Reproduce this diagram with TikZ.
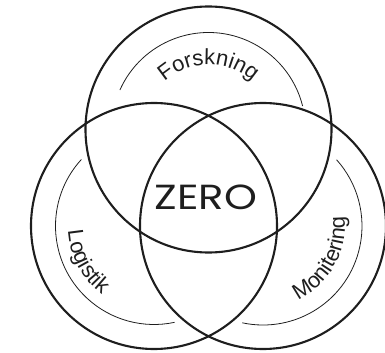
\documentclass[tikz,border=0pt]{standalone}
\usepackage{fontspec}
\setmainfont{Liberation Sans}
\newfontfamily\labelfont[LetterSpace=6]{Liberation Sans}
\newfontfamily\topfont{Liberation Sans}
\newfontfamily\zerofont[FakeStretch=1.2]{Poppins}
\usepackage{tikz}
\usetikzlibrary{decorations.text}
\definecolor{ink}{HTML}{1E1E1E}

\begin{document}
\begin{tikzpicture}[x=1bp, y=1bp,
		ring/.style={draw=ink, line width=2.1bp},
		track/.style={draw=ink, line width=0.8bp},
		curved/.style 2 args={decorate, decoration={text along path, text align=center,
			text={|#1\fontsize{22}{22}\selectfont\color{ink}|#2}}}]
	\useasboundingbox (0,0) rectangle (385,353);

	% centres of the three rings
	\coordinate (forsk) at (208.5,223.5);
	\coordinate (logis) at (154,127);
	\coordinate (monit) at (263,127);

	% Draw the rings
	\draw[ring] (forsk) circle (123);
	\draw[ring] (logis) circle (123);
	\draw[ring] (monit) circle (123);

	% thin tracks inside each ring
	\draw[track] ([shift={(156:97)}]forsk) arc (156:14:97);
	\draw[track] ([shift={(137.5:98.5)}]logis) arc (137.5:282:98.5);
	\draw[track] ([shift={(-102:99)}]monit) arc (-102:42:99);

	% labels bent along the tracks
	\path[curved={\topfont}{Forskning}] ([shift={(170:65)}]forsk) arc (170:10:65);
	\path[curved={\labelfont}{Logistik}] ([shift={(150:86)}]logis) arc (150:266:86);
	\path[curved={\labelfont}{Monitering}] ([shift={(-95:82)}]monit) arc (-95:37:82);

	\node[text=ink, font=\zerofont\fontsize{35}{35}\selectfont] (zero) at (206,155.5) {ZERO};
\end{tikzpicture}
\end{document}
